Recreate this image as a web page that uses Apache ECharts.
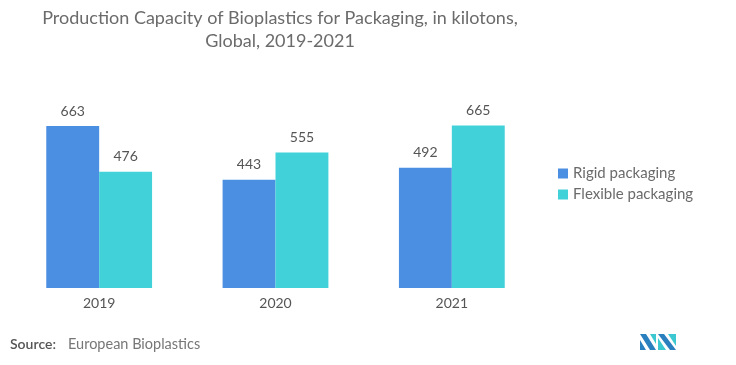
<!DOCTYPE html>
<html><head><meta charset="utf-8">
<script src="https://cdn.jsdelivr.net/npm/echarts@6/dist/echarts.min.js"></script>
<style>html,body{margin:0;padding:0;background:#fff}#c{width:736px;height:365px}</style>
</head><body><div id="c"></div>
<script>
const categories = ['2019', '2020', '2021'];
const rigid = [663, 443, 492];
const flexible = [476, 555, 665];
const seriesNames = ['Rigid packaging', 'Flexible packaging'];
const titleLines = 'Production Capacity of Bioplastics for Packaging, in kilotons,\nGlobal, 2019-2021';
const sourceLabel = 'Source:';
const sourceText = 'European Bioplastics';

const chart = echarts.init(document.getElementById('c'), null, {renderer: 'canvas'});
const font = 'Lato, "Open Sans", sans-serif';
chart.setOption({
  animation: false,
  title: {
    text: titleLines, left: 275, top: 2, textAlign: 'center',
    textStyle: {fontFamily: font, fontSize: 18, fontWeight: 'normal', color: '#6b6b6b', lineHeight: 23}
  },
  legend: {
    orient: 'vertical', left: 553, top: 161, itemWidth: 10, itemHeight: 10, itemGap: 6,
    icon: 'rect', data: seriesNames,
    textStyle: {fontFamily: font, fontSize: 15, color: '#6b6b6b'}
  },
  grid: {left: 11, right: 196, top: 117, bottom: 77, containLabel: false},
  xAxis: {
    type: 'category', data: categories,
    axisLine: {show: false}, axisTick: {show: false},
    axisLabel: {fontFamily: font, fontSize: 14, color: '#555', margin: 8}
  },
  yAxis: {type: 'value', min: 0, max: 700, show: false, splitLine: {show: false}},
  series: [
    {name: seriesNames[0], type: 'bar', data: rigid, barGap: '0%', barCategoryGap: '40%',
     itemStyle: {color: '#4a8fe1'},
     label: {show: true, position: 'top', distance: 8, fontFamily: font, fontSize: 14, color: '#555'}},
    {name: seriesNames[1], type: 'bar', data: flexible,
     itemStyle: {color: '#41d1d9'},
     label: {show: true, position: 'top', distance: 8, fontFamily: font, fontSize: 14, color: '#555'}}
  ],
  graphic: [
    {type: 'text', left: 10, top: 337, style: {text: sourceLabel, font: '600 14px ' + font, fill: '#555'}},
    {type: 'text', left: 68, top: 337, style: {text: sourceText, font: '14.5px ' + font, fill: '#777'}},
    {type: 'group', left: 640, top: 334, children: [
      {type: 'polygon', shape: {points: [[0,0],[6,0],[16,16],[10,16]]}, style: {fill: '#2a7fbf'}},
      {type: 'polygon', shape: {points: [[0,6],[0,16],[6,16]]}, style: {fill: '#2a7fbf'}},
      {type: 'polygon', shape: {points: [[10,0],[16,0],[16,10]]}, style: {fill: '#3cc8d0'}},
      {type: 'polygon', shape: {points: [[18,0],[24,0],[36,16],[30,16]]}, style: {fill: '#2a7fbf'}},
      {type: 'polygon', shape: {points: [[18,4],[18,16],[26,16]]}, style: {fill: '#3cc8d0'}},
      {type: 'polygon', shape: {points: [[28,0],[36,0],[36,12]]}, style: {fill: '#3cc8d0'}}
    ]}
  ]
});
</script></body></html>
